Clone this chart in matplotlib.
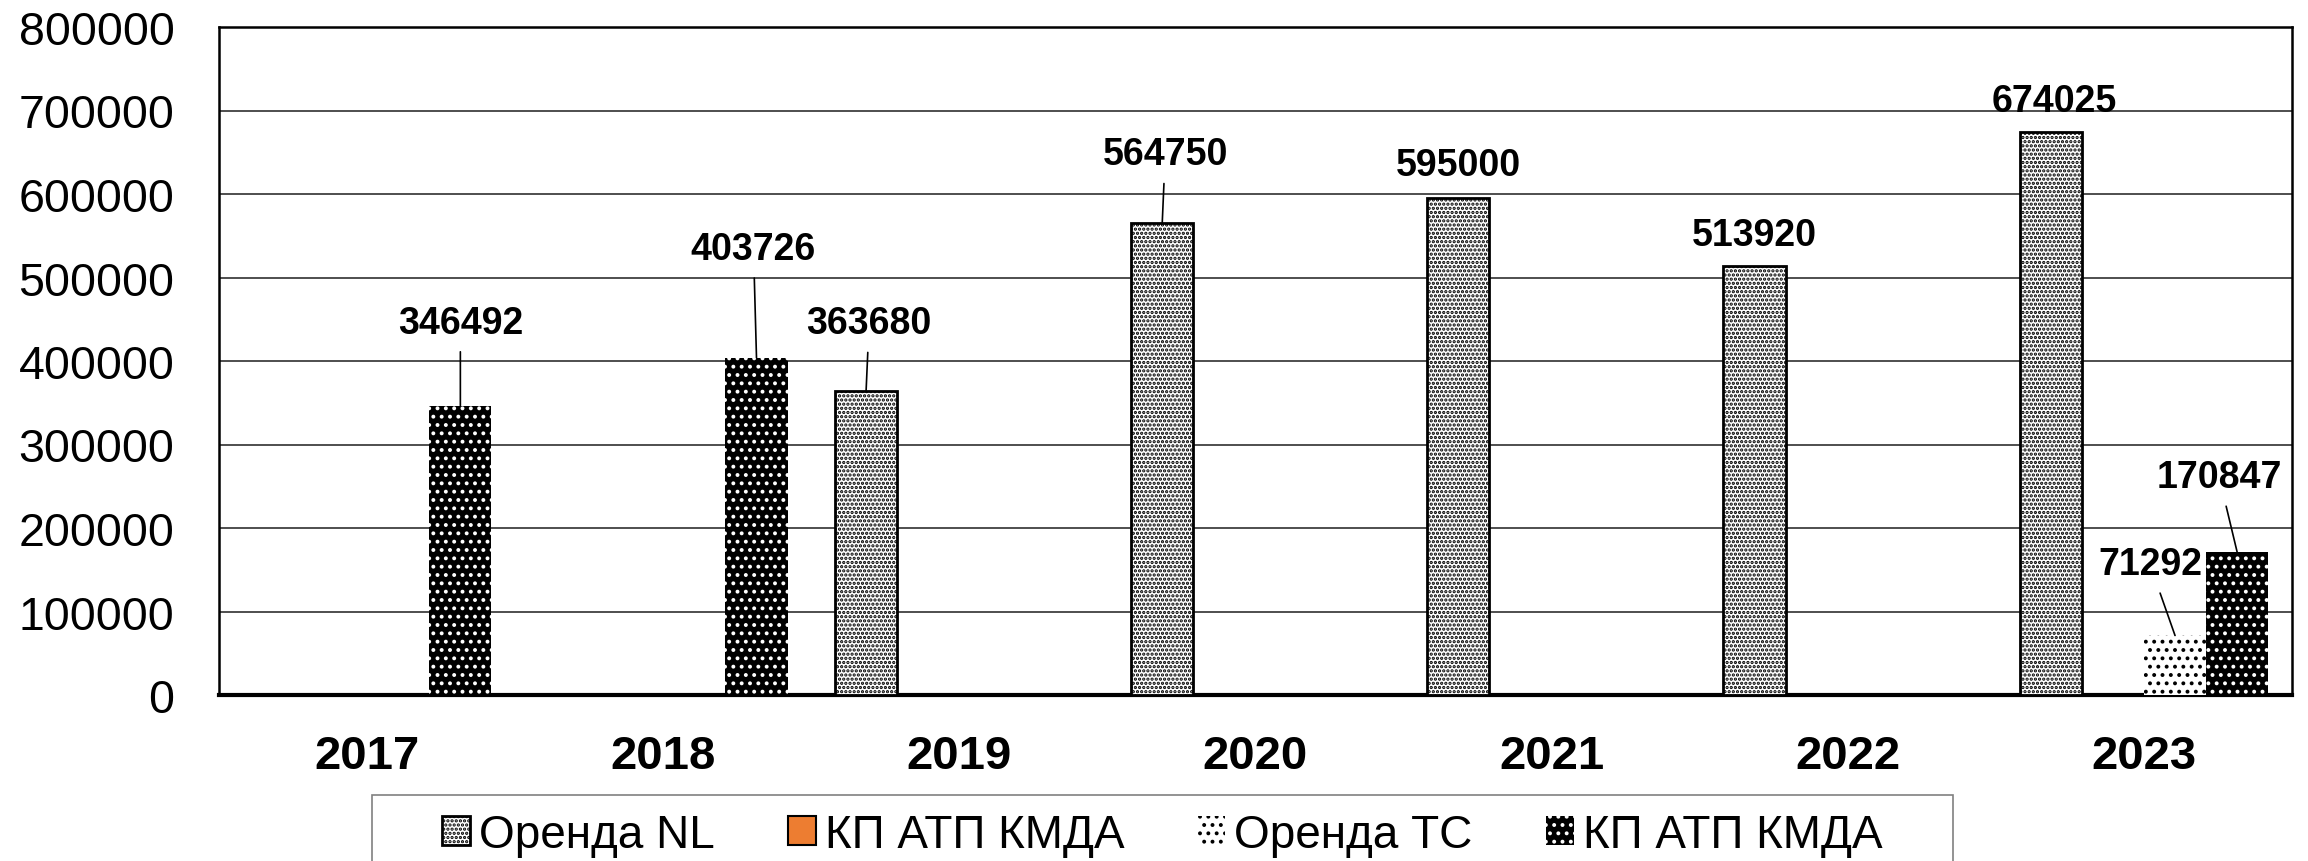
import numpy as np
import matplotlib.pyplot as plt
from matplotlib.patches import Rectangle

plt.rcParams['font.family'] = ['Liberation Sans', 'DejaVu Sans']
plt.rcParams['hatch.linewidth'] = 1.6

# data
years = ['2017', '2018', '2019', '2020', '2021', '2022', '2023']
series_names = ['Оренда NL', 'КП АТП КМДА', 'Оренда ТС', 'КП АТП КМДА']
orenda_nl = [np.nan, np.nan, 363680, 564750, 595000, 513920, 674025]
kp_atp_orange = [np.nan] * 7
orenda_tc = [np.nan, np.nan, np.nan, np.nan, np.nan, np.nan, 71292]
kp_atp_black = [346492, 403726, np.nan, np.nan, np.nan, np.nan, 170847]

# label offsets in pixels (dx, dy, leader line) per series / year index
label_pos = {
    (0, 2): (3, 68, True), (0, 3): (3, 69, True), (0, 4): (0, 33, False),
    (0, 5): (0, 31, False), (0, 6): (4, 31, False),
    (2, 6): (-25, 71, True),
    (3, 0): (0, 83, True), (3, 1): (-3, 109, True), (3, 6): (-18, 75, True),
}

fig = plt.figure(figsize=(23.08, 8.62), dpi=100)
ax = fig.add_axes([219 / 2308, 1 - 696 / 862, (2292 - 219) / 2308, (696 - 28) / 862])

x = np.arange(len(years))
w = 0.21
offsets = [-1.5 * w, -0.5 * w, 0.5 * w, 1.5 * w]
styles = [
    dict(color='white', edgecolor='black', linewidth=2, hatch='....'),
    dict(color='#ED7D31', edgecolor='black', linewidth=1.5),
    dict(color='white', edgecolor='black', linewidth=0, hatch='..'),
    dict(color='black', edgecolor='white', linewidth=0, hatch='..'),
]
all_vals = [orenda_nl, kp_atp_orange, orenda_tc, kp_atp_black]

for si, vals in enumerate(all_vals):
    ax.bar(x + offsets[si], vals, w, label=series_names[si], zorder=3, **styles[si])
    for i, v in enumerate(vals):
        if np.isnan(v):
            continue
        dx, dy, line = label_pos[(si, i)]
        props = dict(arrowstyle='-', color='black', lw=1.2, shrinkA=6, shrinkB=0) if line else None
        ax.annotate(str(int(v)), xy=(x[i] + offsets[si], v), xytext=(dx, dy),
                    textcoords='offset pixels', ha='center', va='center',
                    fontsize=27, fontweight='bold', arrowprops=props, zorder=5)

ax.set_ylim(0, 800000)
ax.set_xlim(-0.5, len(years) - 0.5)
ax.set_yticks(np.arange(0, 800001, 100000))
ax.set_yticklabels([str(v) for v in range(0, 800001, 100000)])
ax.set_xticks(x)
ax.set_xticklabels(years, fontweight='bold')
ax.tick_params(axis='y', length=0, labelsize=33.5, pad=32)
ax.tick_params(axis='x', length=0, labelsize=34, pad=28)
ax.grid(axis='y', color='#404040', linewidth=1.3, zorder=0)
for s in ax.spines.values():
    s.set_linewidth(1.8)
ax.spines['bottom'].set_linewidth(3)

leg = fig.legend(loc='upper center', bbox_to_anchor=(0.5036, 1 - 800 / 862), ncol=4,
                 fontsize=33, frameon=False,
                 handlelength=0.6, handleheight=0.6, handletextpad=0.2,
                 columnspacing=1.6, borderpad=0.3, borderaxespad=0)

# legend frame, running off the bottom edge as in the original
fig.patches.append(Rectangle((372 / 2308, -0.1), (1953 - 372) / 2308, 1.1 - 796 / 862,
                             transform=fig.transFigure, fill=False,
                             edgecolor='#808080', linewidth=1.2))

fig.savefig('out.png', dpi=100)
